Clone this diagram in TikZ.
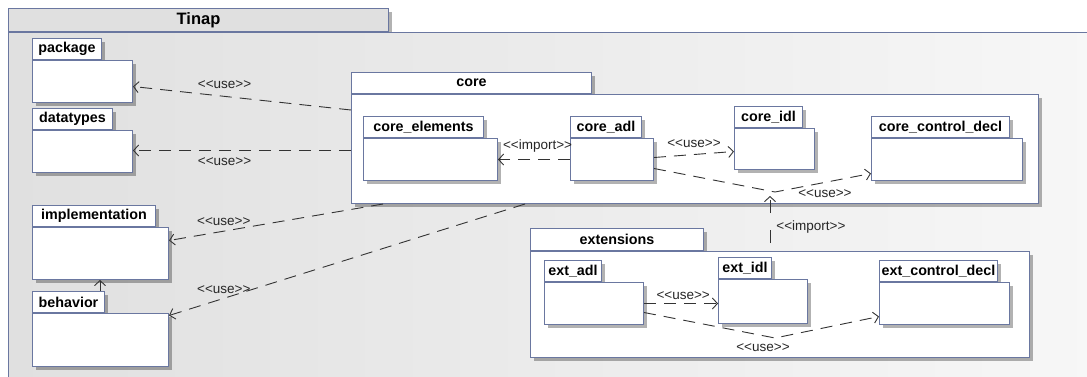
\documentclass[tikz,border=0pt]{standalone}
\usepackage{fontspec}
\setmainfont{Liberation Sans}
\newfontfamily\plainf{Liberation Sans}
\usetikzlibrary{arrows.meta,shadows,calc}
\definecolor{edgec}{HTML}{6A77A0}
\definecolor{linec}{HTML}{333333}
\definecolor{bgl}{HTML}{E0E0E0}
\definecolor{bgr}{HTML}{F7F7F7}
\begin{document}
\begin{tikzpicture}[x=1pt,y=-1pt,
  shad/.style={drop shadow={shadow xshift=3pt,shadow yshift=-3pt,fill=black,opacity=0.3}},
  pkgbody/.style={draw=edgec, line width=1pt, fill=white, anchor=north west, inner sep=0pt, shad},
  pkgtab/.style={pkgbody, anchor=south west, font=\fontsize{14.3}{15}\selectfont\bfseries},
  dep/.style={draw=linec, line width=0.9pt, dash pattern=on 12pt off 8pt, -{Straight Barb[length=5pt,width=11pt]}},
  lbl/.style={font=\plainf\fontsize{13.5}{14}\selectfont, text=black!85, inner sep=0pt}
]
\clip (0,0) rectangle (1087,376);
\fill[white] (0,0) rectangle (1087,376);
% Tinap
\node[pkgtab, fill=bgl, minimum width=380pt, minimum height=23pt, font=\fontsize{16.5}{17}\selectfont\bfseries] (tinap-tab) at (8,32) {Tinap};
\node[pkgbody, left color=bgl, right color=bgr, minimum width=1092pt, minimum height=368pt, drop shadow={opacity=0}] (tinap) at (8,32) {};

% left packages
\node[pkgtab, minimum width=69pt, minimum height=21pt] (package-tab) at (32,60) {package};
\node[pkgbody, minimum width=100pt, minimum height=42pt] (package) at (32,60) {};
\node[pkgtab, minimum width=80pt, minimum height=21pt] (datatypes-tab) at (32,130) {datatypes};
\node[pkgbody, minimum width=100pt, minimum height=42pt] (datatypes) at (32,130) {};
\node[pkgtab, minimum width=123pt, minimum height=21pt] (implementation-tab) at (32,227) {implementation};
\node[pkgbody, minimum width=136pt, minimum height=52pt] (implementation) at (32,227) {};
\node[pkgtab, minimum width=72pt, minimum height=21pt] (behavior-tab) at (32,313) {behavior};
\node[pkgbody, minimum width=136pt, minimum height=53pt] (behavior) at (32,313) {};

% core
\node[pkgtab, minimum width=240pt, minimum height=21pt] (core-tab) at (351,94) {core};
\node[pkgbody, minimum width=687pt, minimum height=109pt] (core) at (351,94) {};
\node[pkgtab, minimum width=120pt, minimum height=21pt] (core_elements-tab) at (363,138) {core\_elements};
\node[pkgbody, minimum width=134pt, minimum height=42pt] (core_elements) at (363,138) {};
\node[pkgtab, minimum width=71pt, minimum height=21pt] (core_adl-tab) at (570,138) {core\_adl};
\node[pkgbody, minimum width=83pt, minimum height=42pt] (core_adl) at (570,138) {};
\node[pkgtab, minimum width=68pt, minimum height=21pt] (core_idl-tab) at (734,128) {core\_idl};
\node[pkgbody, minimum width=80pt, minimum height=41pt] (core_idl) at (734,128) {};
\node[pkgtab, minimum width=138pt, minimum height=21pt] (core_control_decl-tab) at (871,138) {core\_control\_decl};
\node[pkgbody, minimum width=151pt, minimum height=42pt] (core_control_decl) at (871,138) {};

% extensions
\node[pkgtab, minimum width=173pt, minimum height=22pt] (extensions-tab) at (530,251) {extensions};
\node[pkgbody, minimum width=499pt, minimum height=106pt] (extensions) at (530,251) {};
\node[pkgtab, minimum width=57pt, minimum height=21pt] (ext_adl-tab) at (544,282) {ext\_adl};
\node[pkgbody, minimum width=99pt, minimum height=42pt] (ext_adl) at (544,282) {};
\node[pkgtab, minimum width=53pt, minimum height=21pt] (ext_idl-tab) at (718,279) {ext\_idl};
\node[pkgbody, minimum width=89pt, minimum height=44pt] (ext_idl) at (718,279) {};
\node[pkgtab, minimum width=118pt, minimum height=21pt] (ext_control_decl-tab) at (879,282) {ext\_control\_decl};
\node[pkgbody, minimum width=130pt, minimum height=42pt] (ext_control_decl) at (879,282) {};

% connectors
\draw[dep] ([yshift=-16pt]core.north west) -- node[lbl, pos=0.58, yshift=12pt] {<<use>>} ([yshift=-5pt]package.east);
\draw[dep] ([yshift=-1.5pt]core.west) -- node[lbl, pos=0.58, yshift=-11pt] {<<use>>} ([yshift=-1.5pt]core.west -| datatypes.east);
\draw[dep] ([xshift=32pt]core.south west) -- node[lbl, pos=0.744, yshift=10pt] {<<use>>} ([yshift=13pt]implementation.east);
\draw[dep] ([xshift=174pt]core.south west) -- node[lbl, pos=0.846, yshift=9pt] {<<use>>} ([yshift=24.5pt]behavior.east);
\draw[draw=linec, line width=0.9pt, -{Straight Barb[length=5pt,width=11pt]}] ([xshift=68pt]behavior-tab.north west) -- ([xshift=68pt]implementation.south west);

\draw[dep] (core_adl.west) -- node[lbl, pos=0.45, yshift=13pt] {<<import>>} (core_elements.east);
\draw[dep] ([yshift=2pt]core_adl.east) -- node[lbl, pos=0.5, yshift=11pt] {<<use>>} ([yshift=-2.5pt]core_idl.west);
\coordinate (m1) at (775,192);
\draw[dep] ([yshift=-9pt]core_adl.east) -- (m1) -- node[lbl, pos=0.52, yshift=-11.5pt] {<<use>>} ([yshift=-14pt]core_control_decl.west);
\draw[dep, dash pattern=on 13pt off 17pt] ([xshift=240pt,yshift=8pt]extensions.north west) -- node[lbl, pos=0.35, right=6pt] {<<import>>} ([xshift=240pt,yshift=8pt]extensions.north west |- core.south);

\draw[dep] (ext_adl.east) -- node[lbl, pos=0.53, yshift=8pt] {<<use>>} (ext_adl.east -| ext_idl.west);
\coordinate (m2) at (775,338);
\draw[dep] ([yshift=-9pt]ext_adl.east) -- (m2) -- ([yshift=-13pt]ext_control_decl.west);
\node[lbl] (lbl-ext) at (763,348) {<<use>>};
\end{tikzpicture}
\end{document}
